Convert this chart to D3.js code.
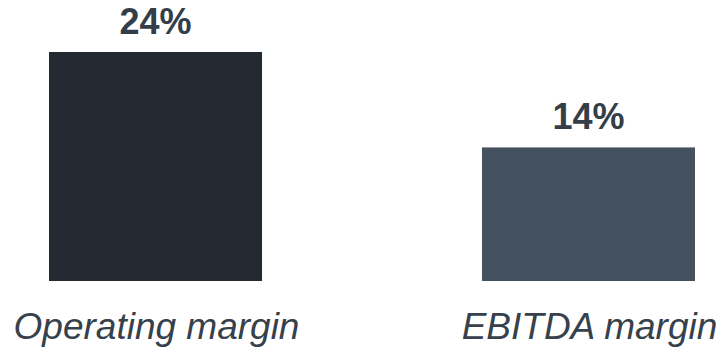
<!DOCTYPE html>
<html>
<head>
<meta charset="utf-8">
<script src="https://cdn.jsdelivr.net/npm/d3@7"></script>
<style>
  body { margin: 0; background: #fff; }
  text { font-family: "Liberation Sans", Arial, sans-serif; }
</style>
</head>
<body>
<script>
var categories = ["Operating margin", "EBITDA margin"],
    values = [24, 14],
    labels = ["24%", "14%"],
    colors = ["#232a31", "#44525f"];

var w = 723, h = 349;

var svg = d3.select("body").append("svg")
  .attr("width", w)
  .attr("height", h);

// scales
var x = d3.scaleBand()
  .domain(categories)
  .range([49, 695])
  .paddingInner(0.508);

var y = d3.scaleLinear()
  .domain([0, 24])
  .range([281, 52]);

// bars
svg.selectAll("rect")
  .data(values)
  .enter().append("rect")
    .attr("x", function(d, i) { return x(categories[i]); })
    .attr("y", function(d) { return y(d); })
    .attr("width", x.bandwidth())
    .attr("height", function(d) { return y(0) - y(d); })
    .attr("fill", function(d, i) { return colors[i]; });

// value labels
svg.selectAll(".val")
  .data(values)
  .enter().append("text")
    .attr("class", "val")
    .attr("x", function(d, i) { return x(categories[i]) + x.bandwidth() / 2; })
    .attr("y", function(d) { return y(d) - 18; })
    .attr("text-anchor", "middle")
    .attr("font-size", 36)
    .attr("font-weight", "bold")
    .attr("fill", "#343e48")
    .text(function(d, i) { return labels[i]; });

// category labels
svg.selectAll(".cat")
  .data(categories)
  .enter().append("text")
    .attr("class", "cat")
    .attr("x", function(d) { return x(d) + x.bandwidth() / 2 + 1; })
    .attr("y", 339)
    .attr("text-anchor", "middle")
    .attr("font-size", 37)
    .attr("font-style", "italic")
    .attr("fill", "#36414c")
    .text(function(d) { return d; });
</script>
</body>
</html>
